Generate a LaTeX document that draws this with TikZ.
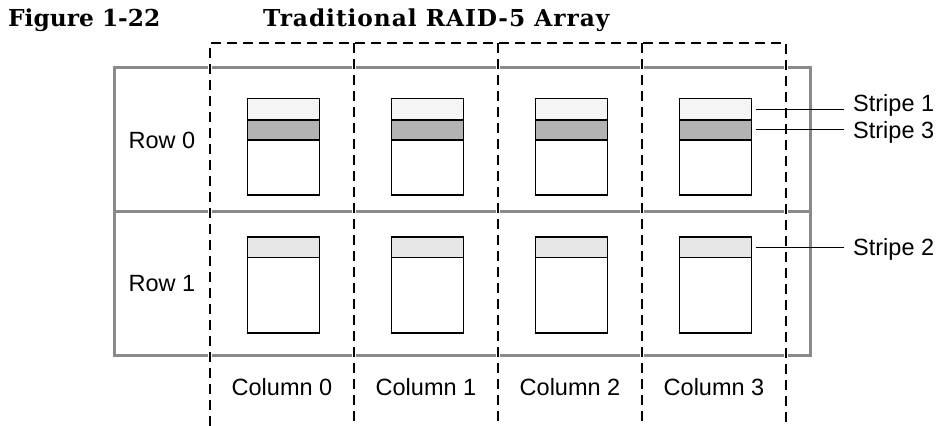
\documentclass[tikz,border=0pt]{standalone}
\usepackage{fontspec}
\setmainfont{Liberation Sans}
\newfontfamily\titlefont{DejaVu Serif}
\usetikzlibrary{calc}

\definecolor{framegray}{HTML}{8A8A8A}
\definecolor{stripeA}{HTML}{F5F5F5}
\definecolor{stripeB}{HTML}{E6E6E6}
\definecolor{stripeC}{HTML}{B3B3B3}

\begin{document}
\begin{tikzpicture}[x=1pt,y=-1pt,
  frame/.style={draw=framegray, line width=3pt},
  colline/.style={draw=black, line width=1.3pt, dash pattern=on 10pt off 6pt},
  colhalo/.style={draw=white, line width=3.4pt},
  disk/.style={draw=black, line width=1.5pt, fill=white, inner sep=0pt,
    minimum width=72pt, anchor=north west},
  band/.style={disk, minimum height=21pt},
  lead/.style={draw=black, line width=1pt},
  lbl/.style={font=\fontsize{23.5}{28}\selectfont, inner sep=0pt},
  ttl/.style={font=\titlefont\bfseries\fontsize{23.3}{28}\selectfont,
    inner sep=0pt, anchor=base west}]
\useasboundingbox (0,0) rectangle (938,426);

% heading
\node[ttl] (fignum) at (8,26) {Figure 1-22};
\node[ttl] (figttl) at (263,26) {\addfontfeature{LetterSpace=4}Traditional RAID-5 Array};

% outer frame with the row divider
\draw[frame] (114,67.5) rectangle (810.7,355.3);
\draw[frame] (114,211.7) -- (810.7,211.7);

% dashed column boundaries (white halo breaks the frame lines)
\foreach \p in {colhalo,colline}{
  \draw[\p] (210,426) -- (210,43) -- (786,43) -- (786,426);
  \foreach \cx in {354,498,642}
    \draw[\p] (\cx,43) -- (\cx,426);
}

% disks: row 0 carries stripes 1 and 3, row 1 carries stripe 2
\foreach \i in {0,...,3}{
  \pgfmathsetmacro{\dx}{246.7+144*\i}
  \node[disk, minimum height=96.6pt] (d0-\i) at (\dx,97.7) {};
  \node[band, fill=stripeA, minimum height=21.6pt] (s1-\i) at (\dx,97.7) {};
  \node[band, fill=stripeC, minimum height=19.7pt] (s3-\i) at (\dx,119.3) {};
  \node[disk, minimum height=96pt] (d1-\i) at (\dx,236) {};
  \node[band, fill=stripeB, minimum height=20.7pt] (s2-\i) at (\dx,236) {};
  \node[lbl] (col\i) at (282+144*\i,387) {Column \i};
}

% row labels
\node[lbl] (row0) at (162,140) {Row 0};
\node[lbl] (row1) at (162,284) {Row 1};

% stripe callouts
\node[lbl, anchor=base west] (lab1) at (853,111) {Stripe 1};
\node[lbl, anchor=base west] (lab3) at (853,138) {Stripe 3};
\node[lbl, anchor=base west] (lab2) at (853,255.5) {Stripe 2};
\coordinate (t1) at ($(s1-3.east)+(92,0)$);
\coordinate (t3) at ($(s3-3.east)+(92,0)$);
\coordinate (t2) at ($(s2-3.east)+(92,0)$);
\draw[lead, shorten <=4pt] (s1-3.east) -- (t1);
\draw[lead, shorten <=4pt] (s3-3.east) -- (t3);
\draw[lead, shorten <=4pt] (s2-3.east) -- (t2);
\end{tikzpicture}
\end{document}
